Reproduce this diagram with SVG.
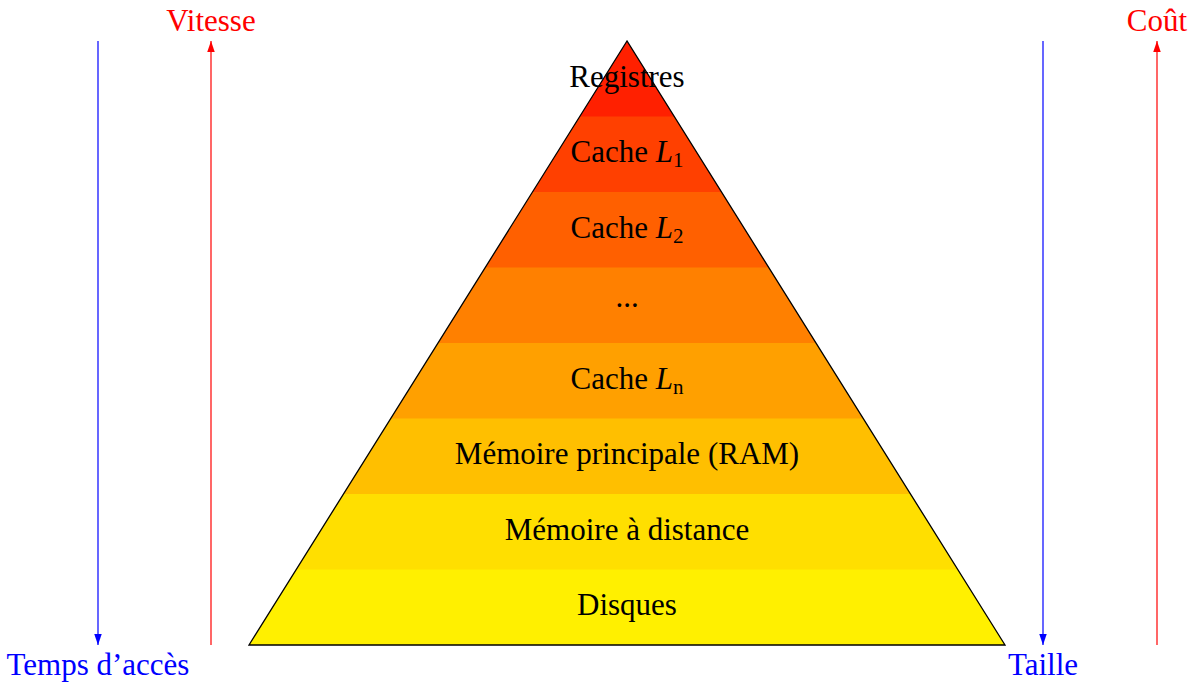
<svg xmlns="http://www.w3.org/2000/svg" width="1195" height="684" viewBox="0 0 1195 684">
<style>
text{font-family:"Liberation Serif","DejaVu Serif",serif;font-size:31px;text-anchor:middle}
.lbl{fill:#000}
.blue{fill:#0000ff}
.red{fill:#ff0000}
.m{font-style:italic}
.s{font-size:21px;font-style:normal}
</style>
<defs>
<clipPath id="tri"><polygon points="627,41 249,645 1005,645"/></clipPath>
<marker id="ab" viewBox="0 0 10 10" refX="10" refY="5" markerWidth="11" markerHeight="11" markerUnits="userSpaceOnUse" orient="auto"><path d="M0,1.6 L10,5 L0,8.4 Z" fill="#0000ff"/></marker>
<marker id="ar" viewBox="0 0 10 10" refX="10" refY="5" markerWidth="11" markerHeight="11" markerUnits="userSpaceOnUse" orient="auto"><path d="M0,1.6 L10,5 L0,8.4 Z" fill="#ff0000"/></marker>
</defs>
<g id="pyramid">
<g clip-path="url(#tri)">
<rect x="240" y="40" width="780" height="77" fill="#ff2000"/>
<rect x="240" y="116.5" width="780" height="76" fill="#ff4000"/>
<rect x="240" y="192" width="780" height="76" fill="#ff6000"/>
<rect x="240" y="267.5" width="780" height="76" fill="#ff8000"/>
<rect x="240" y="343" width="780" height="76" fill="#ffa000"/>
<rect x="240" y="418.5" width="780" height="76" fill="#ffbf00"/>
<rect x="240" y="494" width="780" height="76" fill="#ffdf00"/>
<rect x="240" y="569.5" width="780" height="77" fill="#fff000"/>
</g>
<polygon points="627,41 249,645 1005,645" fill="none" stroke="#000" stroke-width="1.3"/>
</g>
<g id="n-registres"><text class="lbl" x="627" y="87">Registres</text></g>
<g id="n-l1"><text class="lbl" x="627" y="162">Cache <tspan class="m">L</tspan><tspan class="s" dy="5">1</tspan></text></g>
<g id="n-l2"><text class="lbl" x="627" y="238">Cache <tspan class="m">L</tspan><tspan class="s" dy="5">2</tspan></text></g>
<g id="n-dots"><text class="lbl" x="627" y="307">...</text></g>
<g id="n-ln"><text class="lbl" x="627" y="389">Cache <tspan class="m">L</tspan><tspan class="s m" dy="5">n</tspan></text></g>
<g id="n-ram"><text class="lbl" x="627" y="464">Mémoire principale (RAM)</text></g>
<g id="n-dist"><text class="lbl" x="627" y="540">Mémoire à distance</text></g>
<g id="n-disques"><text class="lbl" x="627" y="615">Disques</text></g>
<g id="n-vitesse"><text class="red" x="211" y="31">Vitesse</text></g>
<g id="n-temps"><text class="blue" x="98" y="675">Temps d’accès</text></g>
<g id="n-cout"><text class="red" x="1157" y="31">Coût</text></g>
<g id="n-taille"><text class="blue" x="1043" y="675">Taille</text></g>
<g id="connectors" stroke-width="1.2" fill="none">
<line x1="98" y1="41" x2="98" y2="645" stroke="#0000ff" marker-end="url(#ab)"/>
<line x1="211" y1="645" x2="211" y2="41" stroke="#ff0000" marker-end="url(#ar)"/>
<line x1="1043" y1="41" x2="1043" y2="645" stroke="#0000ff" marker-end="url(#ab)"/>
<line x1="1157" y1="645" x2="1157" y2="41" stroke="#ff0000" marker-end="url(#ar)"/>
</g>
</svg>
